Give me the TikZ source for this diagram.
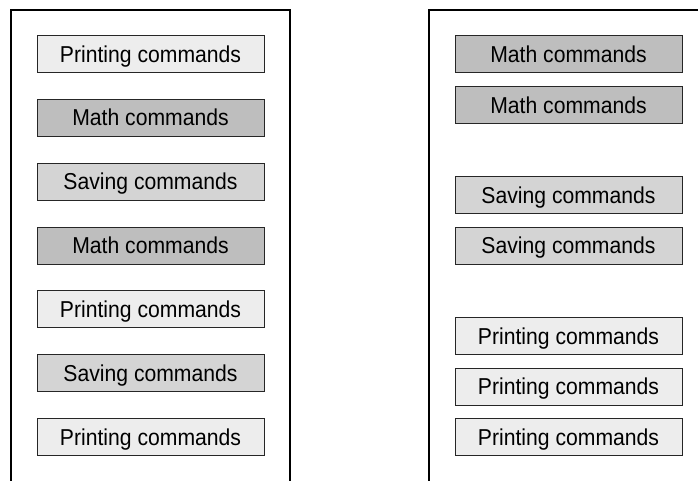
\documentclass[tikz,border=0pt]{standalone}
\usepackage{fontspec}
\setmainfont{Liberation Sans}[FakeStretch=0.92]
\usetikzlibrary{positioning}
\definecolor{printfill}{RGB}{237,237,237}
\definecolor{savefill}{RGB}{212,212,212}
\definecolor{mathfill}{RGB}{190,190,190}
\tikzset{
  cmdbox/.style={draw=black!85,line width=0.9bp,minimum width=227bp,minimum height=37bp,
    inner sep=0pt,text height=16.5bp,text depth=0pt,font=\fontsize{23bp}{26bp}\selectfont},
  printcmd/.style={cmdbox,fill=printfill},
  savecmd/.style={cmdbox,fill=savefill},
  mathcmd/.style={cmdbox,fill=mathfill},
  panel/.style={line width=2bp,draw=black}
}
\begin{document}
\begin{tikzpicture}[x=1bp,y=-1bp]
\useasboundingbox (0,0) rectangle (698,481);
% left program: mixed order
\draw[panel] (11,481) -- (11,10) -- (290,10) -- (290,481);
\node[printcmd] (l1) at (150.5,54) {Printing commands};
\node[mathcmd] (l2) at (150.5,117.5) {Math commands};
\node[savecmd] (l3) at (150.5,181.5) {Saving commands};
\node[mathcmd] (l4) at (150.5,245.5) {Math commands};
\node[printcmd] (l5) at (150.5,309) {Printing commands};
\node[savecmd] (l6) at (150.5,373) {Saving commands};
\node[printcmd] (l7) at (150.5,437) {Printing commands};
% right program: grouped
\draw[panel] (428.5,481) -- (428.5,10) -- (698,10);
\node[mathcmd] (r1) at (568.5,54) {Math commands};
\node[mathcmd] (r2) at (568.5,105) {Math commands};
\node[savecmd] (r3) at (568.5,195) {Saving commands};
\node[savecmd] (r4) at (568.5,245.5) {Saving commands};
\node[printcmd] (r5) at (568.5,336) {Printing commands};
\node[printcmd] (r6) at (568.5,386.5) {Printing commands};
\node[printcmd] (r7) at (568.5,437) {Printing commands};
\end{tikzpicture}
\end{document}
